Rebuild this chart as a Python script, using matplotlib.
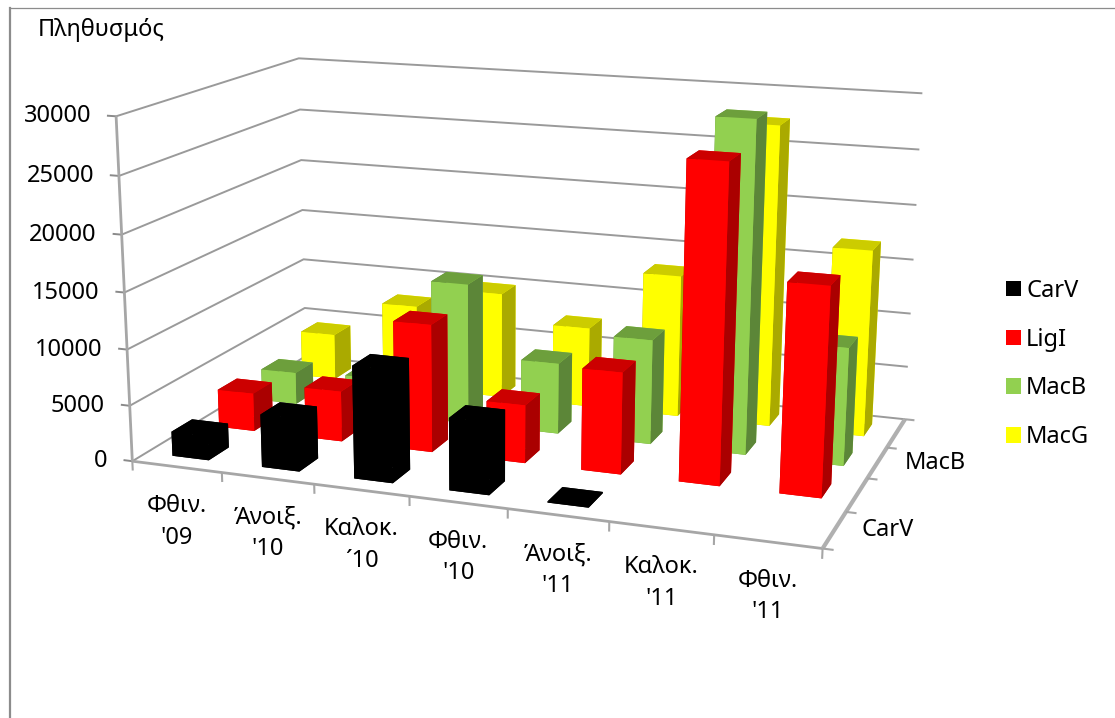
import numpy as np
import matplotlib
matplotlib.use('Agg')
import matplotlib.pyplot as plt
from matplotlib.lines import Line2D
from matplotlib.patches import Patch
from mpl_toolkits.mplot3d import proj3d

plt.rcParams['font.family'] = ['Noto Sans', 'DejaVu Sans']

# Population per season and species
seasons = ["Φθιν.\n'09", "Άνοιξ.\n'10", "Καλοκ.\n´10", "Φθιν.\n'10", "Άνοιξ.\n'11", "Καλοκ.\n'11", "Φθιν.\n'11"]
species = ['CarV', 'LigI', 'MacB', 'MacG']
carv = [2200, 4700, 9900, 6300, 100, 0, 0]
ligi = [3500, 4600, 11500, 5200, 9000, 27500, 18000]
macb = [3000, 3300, 13000, 6500, 9500, 29500, 10500]
macg = [4400, 8000, 10000, 7500, 13200, 27500, 17000]
series = [carv, ligi, macb, macg]
z_ticks = [0, 5000, 10000, 15000, 20000, 25000, 30000]

# front, top and side colours of each series
front_cols = ['#000000', '#ff0000', '#92d050', '#ffff00']
top_cols = ['#000000', '#cc0000', '#6d9f3c', '#cccc00']
side_cols = ['#000000', '#aa0000', '#5c8638', '#aaaa00']

W, H = 1115, 718
GRID = '#8a8a8a'
FONT = 17
BAR_W = 0.41
BAR_D = 0.43
N_X, N_Y, Z_MAX = len(seasons), len(species), z_ticks[-1]

fig = plt.figure(figsize=(W / 100, H / 100), dpi=100)
# square axes wider than the figure, so the 2D view covers every pixel
side = W / H
ax = fig.add_axes([0, (1 - side) / 2, 1, side], projection='3d')
ax.set_axis_off()
ax.set_proj_type('ortho')
ax.computed_zorder = False
ax.set_xticks([])
ax.set_yticks([])
ax.set_zticks([])


def camera_matrix():
    # fit the perspective camera on the corners of the plot box (pixels)
    corners = [
        ((0, 0, 0), (133, 461)),
        ((N_X, 0, 0), (823, 548)),
        ((N_X, N_Y, 0), (905, 420)),
        ((0, N_Y, 0), (305, 356)),
        ((0, 0, Z_MAX), (115, 117)),
        ((0, N_Y, Z_MAX), (300, 58)),
        ((N_X, N_Y, Z_MAX), (922, 93)),
    ]
    x0, x1 = ax.viewLim.intervalx
    y0, y1 = ax.viewLim.intervaly
    rows = []
    for (x, y, z), (px, py) in corners:
        u = x0 + px / W * (x1 - x0)
        v = y0 + (H - py + (W - H) / 2) / W * (y1 - y0)
        p = [x, y, z / Z_MAX, 1]
        rows.append(p + [0, 0, 0, 0] + [-u * c for c in p])
        rows.append([0, 0, 0, 0] + p + [-v * c for c in p])
    P = np.linalg.svd(np.array(rows))[2][-1].reshape(3, 4)
    P[:, 2] /= Z_MAX
    if P[2] @ [N_X / 2, N_Y / 2, 0, 1] < 0:
        P = -P
    # depth row grows with the distance from the camera
    w_mid = P[2] @ [N_X / 2, N_Y / 2, 0, 1]
    return np.vstack([P[0], P[1], P[2] - [0, 0, 0, w_mid / 2], P[2]])


M = camera_matrix()
ax.get_proj = lambda: M


def line3(xs, ys, zs, lw=1.5, color=GRID):
    ax.plot(xs, ys, zs, color=color, lw=lw, zorder=1, solid_capstyle='butt')


def label3(x, y, z, text, dx=0, dy=0, **kw):
    # text placed a few pixels away from a point of the box
    u, v, _ = proj3d.proj_transform(x, y, z, M)
    ax.annotate(text, xy=(u, v), xytext=(dx * 0.72, dy * 0.72), textcoords='offset points',
                fontsize=FONT, annotation_clip=False, zorder=200, **kw)


# wall gridlines
for z in z_ticks:
    line3([0, 0, N_X], [0, N_Y, N_Y], [z, z, z], lw=1.4, color='#9a9a9a')
    line3([-0.1, 0], [0, 0], [z, z], lw=1.4)

# axis lines and ticks
line3([0, 0], [0, 0], [0, Z_MAX], lw=2, color='#a6a6a6')
line3([0, N_X], [0, 0], [0, 0], lw=2, color='#a6a6a6')
line3([N_X, N_X], [0, N_Y], [0, 0], lw=3, color='#b0b0b0')
for i in range(N_X + 1):
    line3([i, i], [0, 0], [0, -850], color='#a6a6a6')
for j in range(N_Y + 1):
    line3([N_X, N_X + 0.1], [j, j], [0, 0], color='#a6a6a6')

# bars, back row first and left to right in each row
for j in reversed(range(N_Y)):
    for i, val in enumerate(series[j]):
        if val <= 0:
            continue
        cols = [top_cols[j], top_cols[j], front_cols[j], front_cols[j], side_cols[j], side_cols[j]]
        ax.bar3d(i + 0.5 - BAR_W / 2, j + 0.5 - BAR_D / 2, 0, BAR_W, BAR_D, val,
                 color=cols, shade=False, linewidth=0, zorder=10 + (N_Y - j) * 10 + i)

for z in z_ticks:
    label3(0, 0, z, str(z), dx=-25, ha='right', va='center')
for i, name in enumerate(seasons):
    label3(i + 0.5, 0, 0, name, dy=-55, ha='center', va='center', linespacing=1.42)
for j in (0, 2):
    label3(N_X, j + 0.5, 0, species[j], dx=27, ha='left', va='center')

fig.text(38 / W, 1 - 30 / H, 'Πληθυσμός', ha='left', va='center', fontsize=FONT)

# chart border, only left and top are inside the frame
fig.add_artist(Line2D([10 / W, 10 / W], [0, 1 - 8 / H], color='#8c8c8c', lw=1.6))
fig.add_artist(Line2D([10 / W, 1], [1 - 8 / H, 1 - 8 / H], color='#8c8c8c', lw=0.9))

handles = [Patch(facecolor=c) for c in front_cols]
fig.legend(handles, species, loc='center left', bbox_to_anchor=(1006 / W, 1 - 364 / H),
           frameon=False, fontsize=FONT, handlelength=0.63, handleheight=0.63,
           handletextpad=0.22, labelspacing=1.05, borderpad=0, borderaxespad=0)

fig.savefig('out.png', dpi=100)
